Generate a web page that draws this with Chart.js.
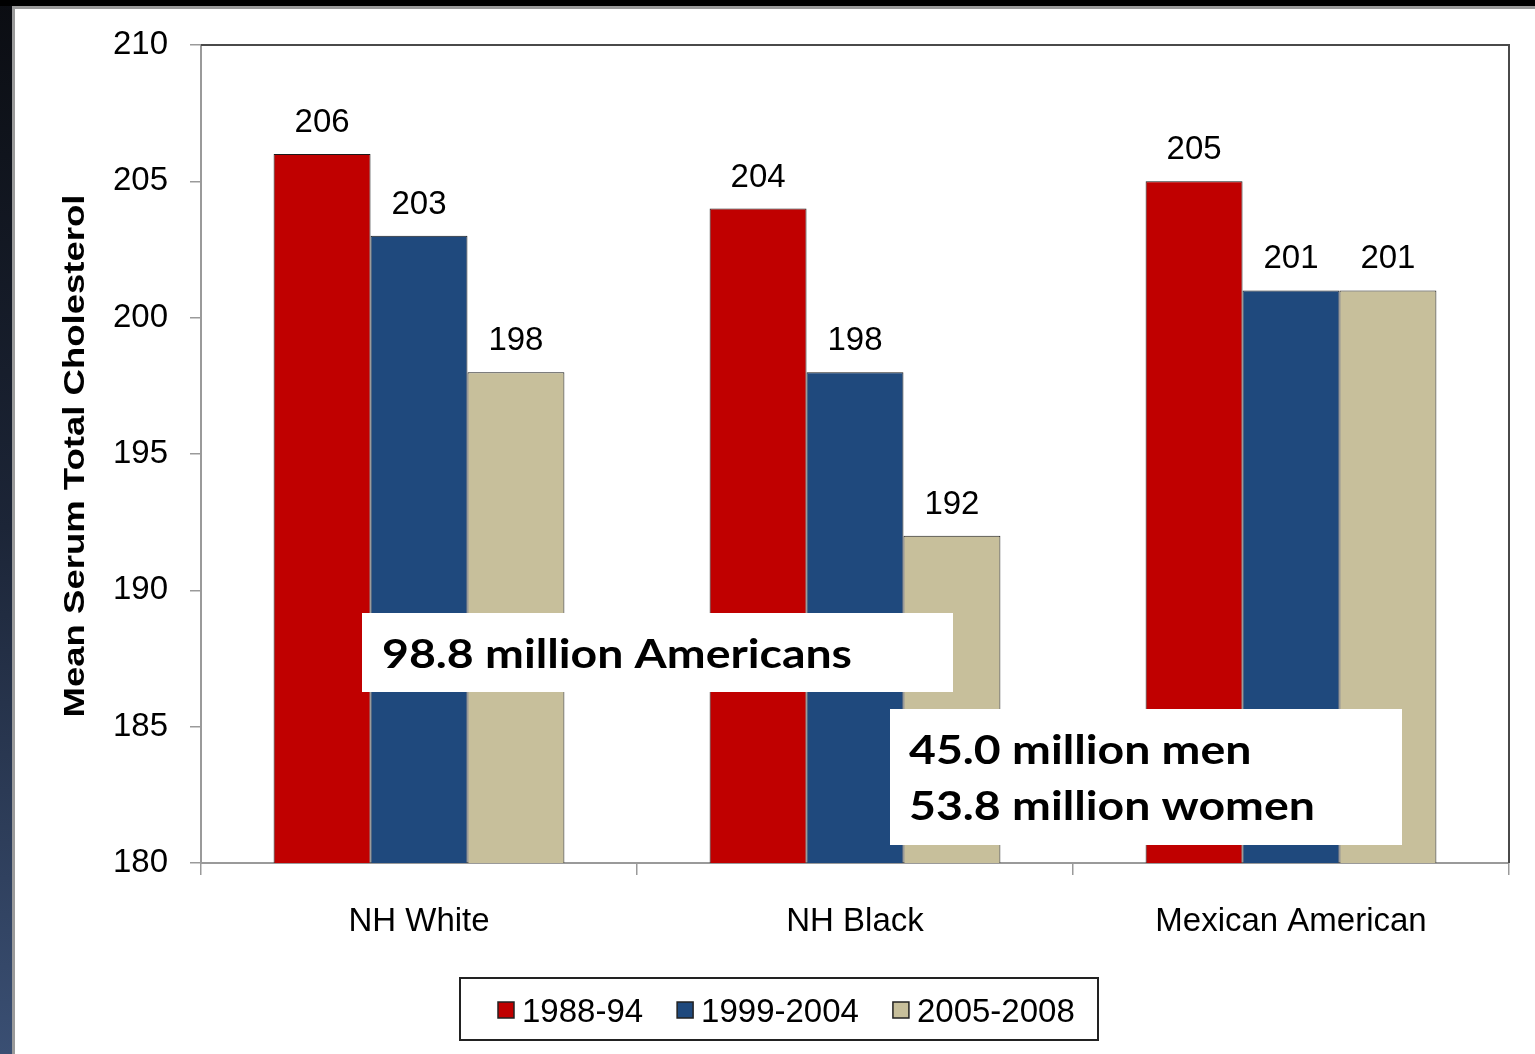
<!DOCTYPE html>
<html>
<head>
<meta charset="utf-8">
<script src="https://cdn.jsdelivr.net/npm/chart.js@4.4.1/dist/chart.umd.min.js"></script>
<style>
  html, body { margin: 0; padding: 0; background: #000; overflow: hidden; }
  #wrap { width: 1535px; height: 1054px; position: relative; }
  canvas { display: block; }
</style>
</head>
<body>
<div id="wrap"><canvas id="c" width="1535" height="1054"></canvas></div>
<script>
// Mean serum total cholesterol (mg/dL) by race/ethnicity and survey period
const groups = ['NH White', 'NH Black', 'Mexican American'];
const periods = ['1988-94', '1999-2004', '2005-2008'];
const values1988 = [206, 204, 205];
const values1999 = [203, 198, 201];
const values2005 = [198, 192, 201];
const yTicks = [180, 185, 190, 195, 200, 205, 210];
const seriesColors = ['#C00000', '#1F497D', '#C7BF9B'];
const yTitle = 'Mean Serum Total Cholesterol';
const noteTotal = '98.8 million Americans';
const noteSplit = ['45.0 million men', '53.8 million women'];

const AXIS_FONT = '"Liberation Sans", Arial, sans-serif';
const NOTE_FONT = 'Lato, "Open Sans", sans-serif';

// Slide backdrop: dark frame with a navy gradient strip on the left
const slideBackground = {
  id: 'slideBackground',
  beforeDraw(chart) {
    const { ctx, width, height } = chart;
    ctx.save();
    ctx.fillStyle = '#000';
    ctx.fillRect(0, 0, width, height);
    const g = ctx.createLinearGradient(0, 0, 0, height);
    g.addColorStop(0, '#0b0d12');
    g.addColorStop(0.5, '#1c2537');
    g.addColorStop(1, '#3a4f73');
    ctx.fillStyle = g;
    ctx.fillRect(0, 6, 13, height);
    ctx.fillStyle = '#9a9a9a';
    ctx.fillRect(12, 6, width, 3);
    ctx.fillRect(12, 6, 3, height);
    ctx.fillStyle = '#fff';
    ctx.fillRect(15, 9, width - 15, height - 9);
    ctx.restore();
  }
};

// Value labels above each bar
const barValues = {
  id: 'barValues',
  afterDatasetsDraw(chart) {
    const { ctx } = chart;
    ctx.save();
    ctx.font = '33px ' + AXIS_FONT;
    ctx.fillStyle = '#000';
    ctx.textAlign = 'center';
    ctx.textBaseline = 'alphabetic';
    chart.data.datasets.forEach((ds, di) => {
      chart.getDatasetMeta(di).data.forEach((bar, i) => {
        ctx.fillText(String(ds.data[i]), bar.x, bar.y - 22);
      });
    });
    ctx.restore();
  }
};

// Frame on top/right of the plot, axis title, legend box and the population callouts
const overlays = {
  id: 'overlays',
  afterDraw(chart) {
    const { ctx, chartArea: a } = chart;
    ctx.save();
    // plot frame (top and right)
    ctx.strokeStyle = '#4a4a4a';
    ctx.lineWidth = 2;
    ctx.beginPath();
    ctx.moveTo(a.left, a.top);
    ctx.lineTo(a.right, a.top);
    ctx.lineTo(a.right, a.bottom);
    ctx.stroke();

    // rotated y-axis title, stretched along its length
    ctx.save();
    ctx.font = 'bold 30px ' + AXIS_FONT;
    ctx.fillStyle = '#000';
    ctx.textAlign = 'center';
    ctx.textBaseline = 'middle';
    const titleLen = 523;
    const sx = titleLen / ctx.measureText(yTitle).width;
    ctx.translate(76, (a.top + a.bottom) / 2 + 2);
    ctx.rotate(-Math.PI / 2);
    ctx.scale(sx, 1);
    ctx.fillText(yTitle, 0, 0);
    ctx.restore();

    // legend
    const lx = 460, ly = 978, lw = 638, lh = 62;
    ctx.fillStyle = '#fff';
    ctx.fillRect(lx, ly, lw, lh);
    ctx.strokeStyle = '#222';
    ctx.lineWidth = 2;
    ctx.strokeRect(lx, ly, lw, lh);
    ctx.font = '33px ' + AXIS_FONT;
    ctx.textBaseline = 'alphabetic';
    ctx.textAlign = 'left';
    let x = lx + 38;
    chart.data.datasets.forEach((ds) => {
      ctx.fillStyle = ds.backgroundColor;
      ctx.fillRect(x, 1002, 16, 16);
      ctx.strokeStyle = '#222';
      ctx.lineWidth = 1.5;
      ctx.strokeRect(x, 1002, 16, 16);
      ctx.fillStyle = '#000';
      ctx.fillText(ds.label, x + 24, 1022);
      x += 24 + ctx.measureText(ds.label).width + 34;
    });

    // callout boxes
    ctx.fillStyle = '#fff';
    ctx.fillRect(362, 613, 591, 79);
    ctx.fillRect(890, 709, 512, 136);
    ctx.fillStyle = '#000';
    ctx.font = 'bold 41px ' + NOTE_FONT;
    const nx = 470 / ctx.measureText(noteTotal).width;
    const note = (text, tx, ty) => {
      ctx.save();
      ctx.translate(tx, ty);
      ctx.scale(nx, 1);
      ctx.fillText(text, 0, 0);
      ctx.restore();
    };
    note(noteTotal, 382, 668);
    note(noteSplit[0], 909, 764);
    note(noteSplit[1], 909, 820);
    ctx.restore();
  }
};

new Chart(document.getElementById('c'), {
  type: 'bar',
  data: {
    labels: groups,
    datasets: [
      { label: periods[0], data: values1988, backgroundColor: seriesColors[0] },
      { label: periods[1], data: values1999, backgroundColor: seriesColors[1] },
      { label: periods[2], data: values2005, backgroundColor: seriesColors[2] }
    ].map(d => Object.assign(d, {
      borderColor: '#1a1a1a',
      borderWidth: 1,
      borderSkipped: false,
      categoryPercentage: 0.667,
      barPercentage: 1.0
    }))
  },
  options: {
    responsive: false,
    devicePixelRatio: 1,
    animation: false,
    layout: { padding: { left: 40, top: 45, right: 26, bottom: 111 } },
    plugins: { legend: { display: false }, tooltip: { enabled: false } },
    scales: {
      y: {
        min: 180,
        max: 210,
        afterBuildTicks: s => { s.ticks = yTicks.map(v => ({ value: v })); },
        afterFit: s => { s.width = 161; },
        ticks: { font: { family: AXIS_FONT, size: 33 }, color: '#000', padding: 22 },
        grid: { drawOnChartArea: false, drawTicks: true, tickLength: 11, color: '#9a9a9a', lineWidth: 1.5 },
        border: { display: true, color: '#9a9a9a', width: 2 },
        title: { display: false }
      },
      x: {
        afterFit: s => { s.height = 80; },
        ticks: { font: { family: AXIS_FONT, size: 33 }, color: '#000', padding: 27 },
        grid: { offset: true, drawOnChartArea: false, drawTicks: true, tickLength: 12, color: '#9a9a9a', lineWidth: 1.5 },
        border: { display: true, color: '#9a9a9a', width: 2 }
      }
    }
  },
  plugins: [slideBackground, barValues, overlays]
});
</script>
</body>
</html>
